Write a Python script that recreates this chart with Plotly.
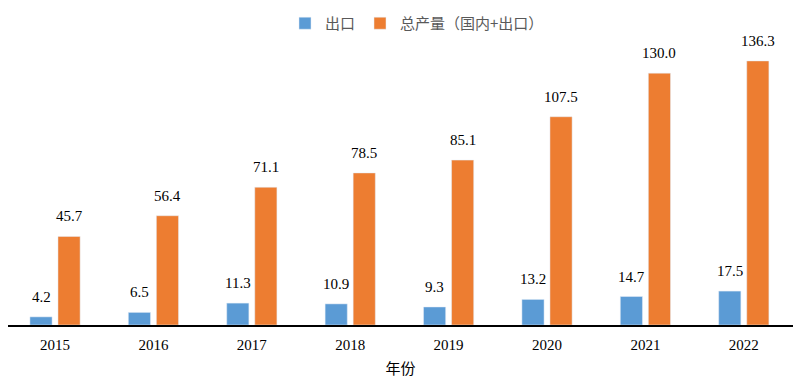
import plotly.graph_objects as go

years = ["2015", "2016", "2017", "2018", "2019", "2020", "2021", "2022"]
export = [4.2, 6.5, 11.3, 10.9, 9.3, 13.2, 14.7, 17.5]
total = [45.7, 56.4, 71.1, 78.5, 85.1, 107.5, 130.0, 136.3]

blue = "#5B9BD5"
orange = "#ED7D31"
serif = "Liberation Serif, Times New Roman, serif"
cjk = "Noto Sans CJK SC, sans-serif"

fig = go.Figure()
fig.add_trace(go.Bar(x=years, y=export, name="出口", marker_color=blue, offsetgroup="a"))
fig.add_trace(go.Bar(x=years, y=total, name="总产量（国内+出口）", marker_color=orange, offsetgroup="b"))

ann = []
for i, y in enumerate(years):
    ann.append(dict(x=i, y=export[i], text=f"{export[i]:.1f}", xref="x", yref="y",
                    showarrow=False, yanchor="middle", yshift=20, xshift=-14,
                    font=dict(family=serif, size=15, color="#000")))
    ann.append(dict(x=i, y=total[i], text=f"{total[i]:.1f}", xref="x", yref="y",
                    showarrow=False, yanchor="middle", yshift=20, xshift=14,
                    font=dict(family=serif, size=15, color="#000")))

fig.update_layout(
    width=801, height=381,
    margin=dict(l=0, r=16, t=32, b=64, autoexpand=False),
    paper_bgcolor="white", plot_bgcolor="white",
    barmode="group", bargap=0.43, bargroupgap=0.21,
    showlegend=True,
    legend=dict(orientation="h", x=0.521, xanchor="center", y=1.058, yanchor="middle",
                font=dict(family=cjk, size=15, color="#595959"), itemwidth=30),
    annotations=ann,
    xaxis=dict(type="category", range=[-0.478, 7.5], showline=True,
               linecolor="black", linewidth=1.5, ticks="", automargin=False,
               ticklabelstandoff=5,
               tickfont=dict(family=serif, size=15, color="#000"),
               title=dict(text="年份", font=dict(family=cjk, size=15, color="#000"), standoff=12)),
    yaxis=dict(range=[0, 147.1], visible=False, showgrid=False, automargin=False),
)
fig.write_html("out.html")
